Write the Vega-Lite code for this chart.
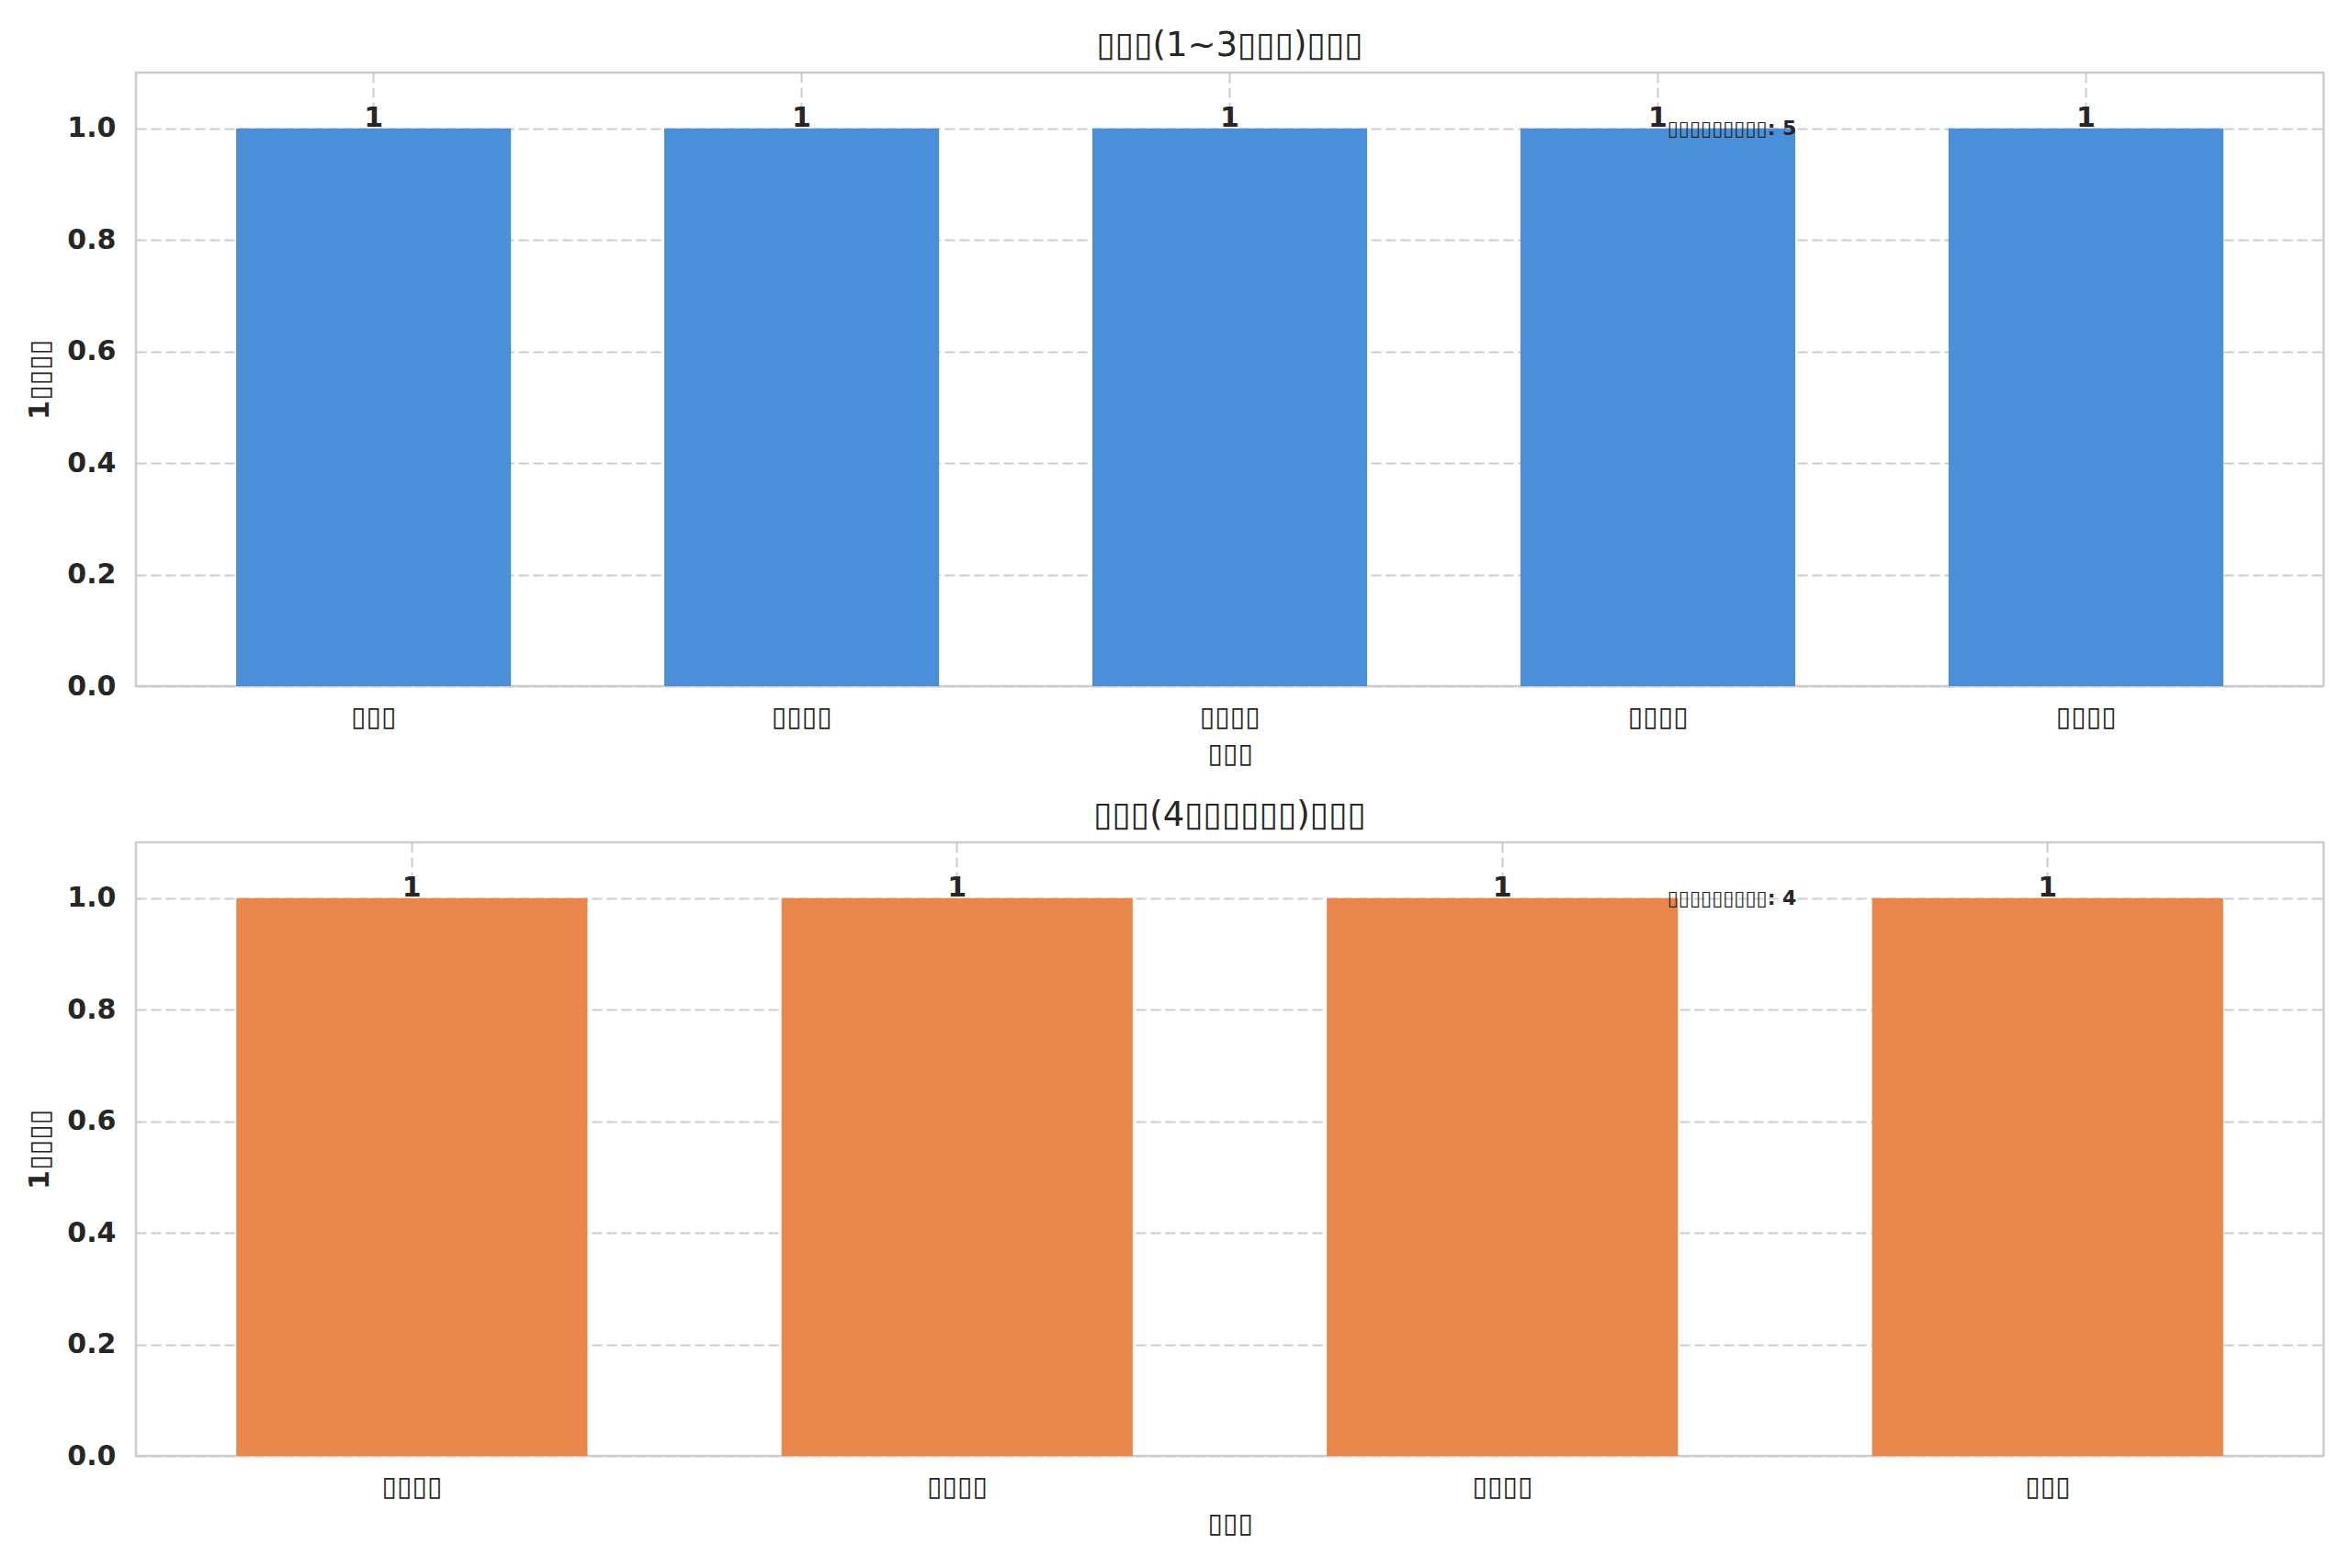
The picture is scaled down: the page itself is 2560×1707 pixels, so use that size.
{
  "$schema": "https://vega.github.io/schema/vega-lite/v6.json",
  "padding": {"left": 27, "top": 29, "right": 30, "bottom": 20},
  "background": "white",
  "bounds": "flush",
  "spacing": 170,
  "datasets": {
    "early": [
      {"label": "▯▯▯#1", "count": 1},
      {"label": "▯▯▯▯#2", "count": 1},
      {"label": "▯▯▯▯#3", "count": 1},
      {"label": "▯▯▯▯#4", "count": 1},
      {"label": "▯▯▯▯#5", "count": 1}
    ],
    "late": [
      {"label": "▯▯▯▯#1", "count": 1},
      {"label": "▯▯▯▯#2", "count": 1},
      {"label": "▯▯▯▯#3", "count": 1},
      {"label": "▯▯▯#4", "count": 1}
    ],
    "early_note": [{"fx": 0.7, "fy": 1.0, "note": "▯▯▯▯▯▯▯▯▯: 5"}],
    "late_note": [{"fx": 0.7, "fy": 1.0, "note": "▯▯▯▯▯▯▯▯▯: 4"}]
  },
  "vconcat": [
    {
      "width": 2381,
      "height": 668,
      "title": "▯▯▯(1~3▯▯▯)▯▯▯",
      "resolve": {"scale": {"x": "independent"}, "axis": {"x": "independent"}},
      "layer": [
        {
          "data": {"name": "early"},
          "encoding": {
            "x": {
              "field": "label", "type": "nominal", "sort": null, "title": "▯▯▯",
              "scale": {"paddingInner": 0.358, "paddingOuter": 0.234},
              "axis": {"labelExpr": "split(datum.label, '#')[0]"}
            },
            "y": {
              "field": "count", "type": "quantitative", "title": "1▯▯▯▯",
              "scale": {"domain": [0, 1.1], "nice": false},
              "axis": {"values": [0, 0.2, 0.4, 0.6, 0.8, 1.0]}
            }
          },
          "layer": [
            {"mark": {"type": "bar", "color": "#4a90d9"}},
            {
              "mark": {"type": "text", "fontWeight": "bold", "fontSize": 30, "color": "#262626", "baseline": "alphabetic", "dy": -2},
              "encoding": {"text": {"field": "count", "type": "quantitative"}}
            }
          ]
        },
        {
          "data": {"name": "early_note"},
          "mark": {"type": "text", "fontWeight": "bold", "fontSize": 22, "color": "#262626", "align": "left", "baseline": "middle"},
          "encoding": {
            "x": {"field": "fx", "type": "quantitative", "scale": {"domain": [0, 1], "nice": false}, "axis": null},
            "y": {"field": "fy", "type": "quantitative"},
            "text": {"field": "note"}
          }
        }
      ]
    },
    {
      "width": 2381,
      "height": 668,
      "title": "▯▯▯(4▯▯▯▯▯▯)▯▯▯",
      "resolve": {"scale": {"x": "independent"}, "axis": {"x": "independent"}},
      "layer": [
        {
          "data": {"name": "late"},
          "encoding": {
            "x": {
              "field": "label", "type": "nominal", "sort": null, "title": "▯▯▯",
              "scale": {"paddingInner": 0.356, "paddingOuter": 0.184},
              "axis": {"labelExpr": "split(datum.label, '#')[0]"}
            },
            "y": {
              "field": "count", "type": "quantitative", "title": "1▯▯▯▯",
              "scale": {"domain": [0, 1.1], "nice": false},
              "axis": {"values": [0, 0.2, 0.4, 0.6, 0.8, 1.0]}
            }
          },
          "layer": [
            {"mark": {"type": "bar", "color": "#e8864b"}},
            {
              "mark": {"type": "text", "fontWeight": "bold", "fontSize": 30, "color": "#262626", "baseline": "alphabetic", "dy": -2},
              "encoding": {"text": {"field": "count", "type": "quantitative"}}
            }
          ]
        },
        {
          "data": {"name": "late_note"},
          "mark": {"type": "text", "fontWeight": "bold", "fontSize": 22, "color": "#262626", "align": "left", "baseline": "middle"},
          "encoding": {
            "x": {"field": "fx", "type": "quantitative", "scale": {"domain": [0, 1], "nice": false}, "axis": null},
            "y": {"field": "fy", "type": "quantitative"},
            "text": {"field": "note"}
          }
        }
      ]
    }
  ],
  "config": {
    "font": "DejaVu Sans",
    "view": {"stroke": "#cccccc", "strokeWidth": 2.5},
    "title": {"fontSize": 37, "fontWeight": "normal", "color": "#262626", "offset": 10, "anchor": "middle"},
    "axis": {
      "grid": true,
      "gridColor": "#cccccc",
      "gridDash": [11, 5],
      "gridWidth": 2,
      "domain": false,
      "ticks": false,
      "labelColor": "#262626",
      "titleColor": "#262626",
      "labelFontSize": 30,
      "titleFontSize": 30
    },
    "axisY": {
      "labelFontWeight": "bold",
      "titleFontWeight": "bold",
      "format": ".1f",
      "labelPadding": 22,
      "titlePadding": 14
    },
    "axisX": {
      "labelAngle": 0,
      "titleFontWeight": "normal",
      "labelPadding": 18,
      "titlePadding": 10,
      "bandPosition": 0.5
    }
  }
}
